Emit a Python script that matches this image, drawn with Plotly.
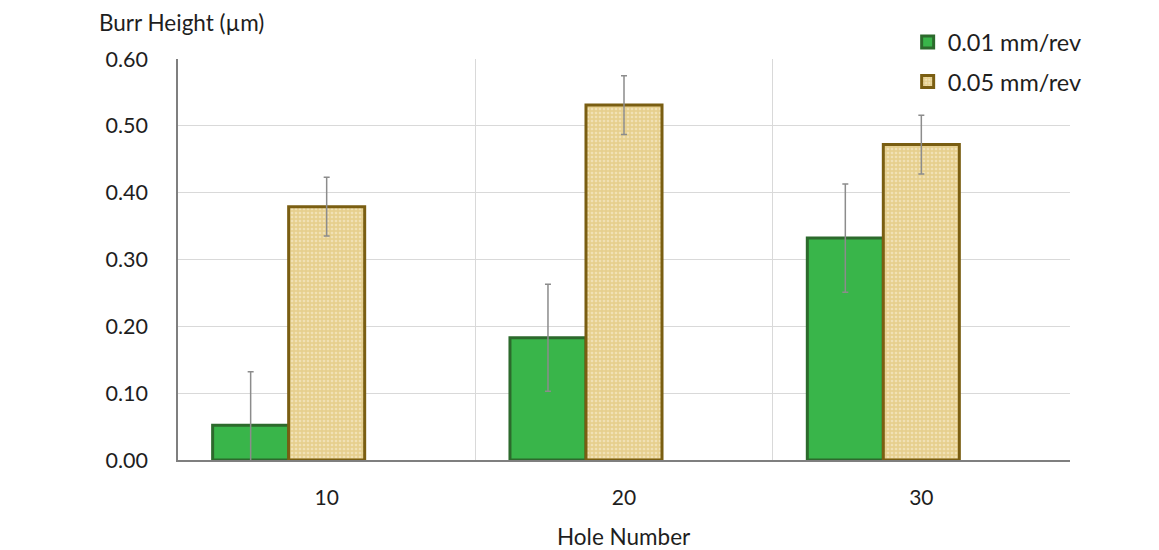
import plotly.graph_objects as go

holes = ["10", "20", "30"]
feed_001 = [0.052, 0.183, 0.332]
err_001 = [0.080, 0.080, 0.081]
feed_005 = [0.379, 0.531, 0.472]
err_005 = [0.044, 0.044, 0.044]
empty_series = [None, None, None]
series_names = ["0.01 mm/rev", "0.05 mm/rev"]
y_ticks = [0.0, 0.1, 0.2, 0.3, 0.4, 0.5, 0.6]

xpos = list(range(len(holes)))
FONT = "Lato"
TXT = "#1E1E1E"

fig = go.Figure()
fig.add_trace(go.Bar(
    x=xpos, y=feed_001, name=series_names[0], legendgroup="a",
    marker=dict(color="#39B54A", line=dict(color="#2C6A2C", width=3)),
    error_y=dict(type="data", array=err_001, color="#8C8C8C", thickness=1.5, width=3),
))
fig.add_trace(go.Bar(
    x=xpos, y=feed_005, name=series_names[1], legendgroup="b",
    marker=dict(color="#EDD9A0", line=dict(color="#7A5E12", width=3),
                pattern=dict(shape=".", fgcolor="#FBF3DC", bgcolor="#E6CF8E",
                             size=4, solidity=0.35, fillmode="overlay")),
    error_y=dict(type="data", array=err_005, color="#8C8C8C", thickness=1.5, width=3),
))
# empty third series slot (as in the original chart, bars are shifted left)
fig.add_trace(go.Bar(x=xpos, y=empty_series, showlegend=False, hoverinfo="skip",
                     marker=dict(color="rgba(0,0,0,0)")))

fig.update_layout(
    width=1159, height=550,
    margin=dict(l=170, r=97, t=51, b=98),
    paper_bgcolor="white", plot_bgcolor="white",
    barmode="group", bargap=0.233, bargroupgap=0,
    font=dict(family=FONT, size=21, color=TXT),
    showlegend=True,
    legend=dict(x=0.818, y=1.097, xanchor="left", yanchor="top",
                font=dict(family=FONT, size=23.5, color=TXT),
                tracegroupgap=6, bgcolor="rgba(255,255,255,0)"),
    xaxis=dict(
        range=[-0.5, 2.5], tickmode="array", tickvals=xpos, ticktext=holes,
        showgrid=False, showline=True, linecolor="#7F7F7F", linewidth=1.5,
        ticks="", ticklabelstandoff=18, zeroline=False,
        minor=dict(tick0=-0.5, dtick=1, showgrid=True, gridcolor="#D9D9D9", gridwidth=1, ticks=""),
        tickfont=dict(family=FONT, size=21, color=TXT),
    ),
    yaxis=dict(
        range=[0, 0.6], tickmode="array", tickvals=y_ticks,
        ticktext=[f"{v:.2f}" for v in y_ticks],
        showgrid=True, gridcolor="#D9D9D9", gridwidth=1,
        showline=True, linecolor="#7F7F7F", linewidth=1.5,
        ticks="", ticklabelstandoff=24, zeroline=False,
        tickfont=dict(family=FONT, size=21.5, color=TXT),
    ),
    annotations=[
        dict(text="Burr Height (µm)", xref="paper", yref="paper",
             x=-0.091, y=1.092, xanchor="left", yanchor="middle", showarrow=False,
             font=dict(family=FONT, size=22.5, color=TXT)),
        dict(text="Hole Number", xref="paper", yref="paper",
             x=0.5, y=-0.192, xanchor="center", yanchor="middle", showarrow=False,
             font=dict(family=FONT, size=22.5, color=TXT)),
    ],
)

fig.write_html("out.html")
